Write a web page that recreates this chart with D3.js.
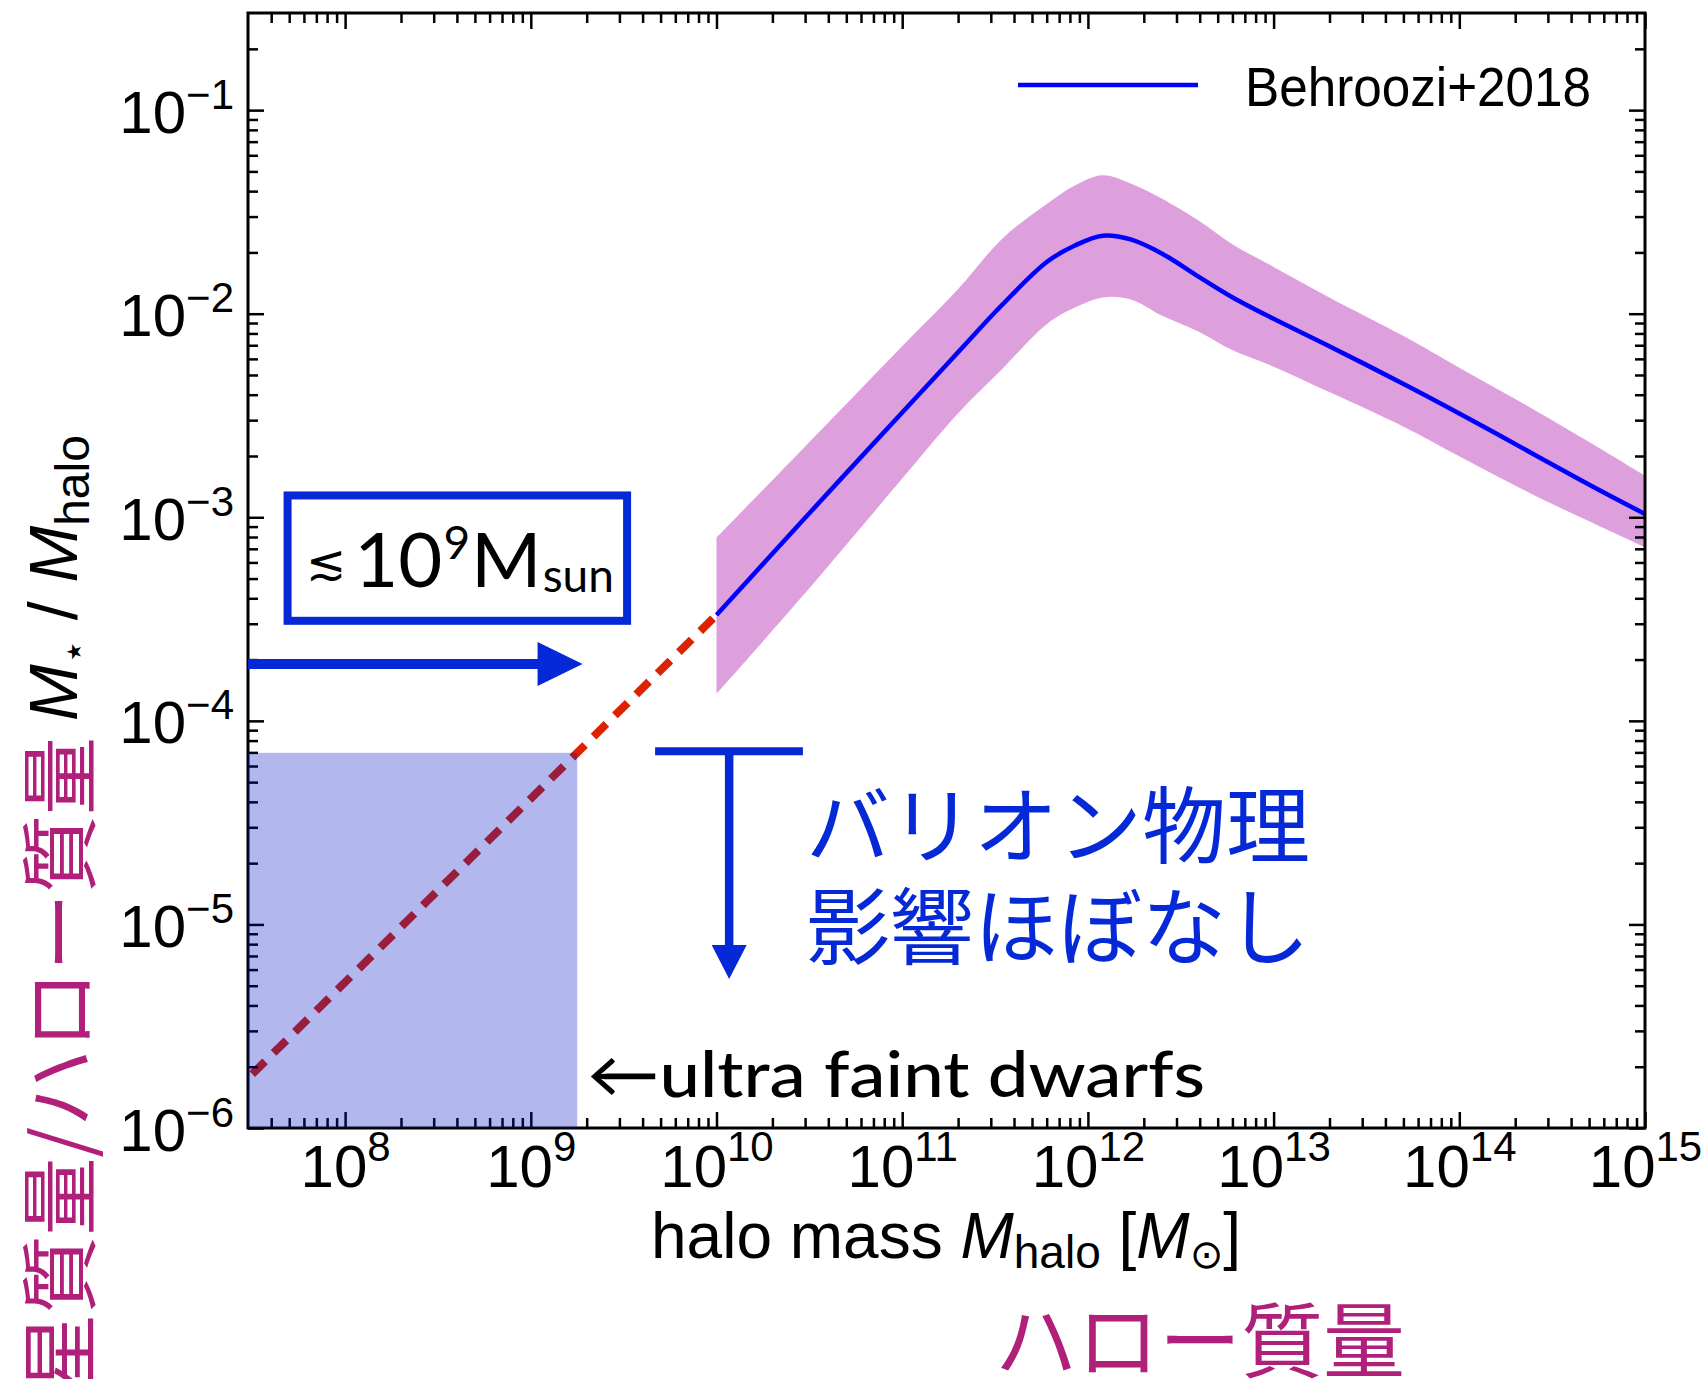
<!DOCTYPE html>
<html>
<head>
<meta charset="utf-8">
<script src="https://d3js.org/d3.v7.min.js"></script>
<style>
body { margin: 0; background: #fff; }
svg text { font-family: "Liberation Sans Narrow", "Liberation Sans", sans-serif; }
.axis path { display: none; }
.axis line { stroke: #000; stroke-width: 2.5; }
.jp { font-family: "Noto Sans CJK JP", sans-serif; }
.gill { font-family: Lato, "Open Sans", sans-serif; }
</style>
</head>
<body>
<svg id="chart"></svg>
<script>
// Behroozi+2018 stellar-to-halo mass ratio (log10 values)
var logMass    = [10.0, 10.48, 11.0, 11.3, 11.54, 11.78, 11.93, 12.08, 12.23, 12.4, 12.6, 12.78, 13.0, 13.3, 13.7, 14.0, 14.4, 14.7, 15.0];
var logRatio   = [-3.48, -3.0, -2.485, -2.19, -1.955, -1.745, -1.665, -1.617, -1.635, -1.705, -1.82, -1.92, -2.025, -2.16, -2.345, -2.49, -2.69, -2.84, -2.984];
var logRatioHi = [-3.1, -2.65, -2.16, -1.88, -1.63, -1.46, -1.37, -1.32, -1.36, -1.435, -1.545, -1.66, -1.77, -1.92, -2.11, -2.265, -2.47, -2.63, -2.796];
var logRatioLo = [-3.867, -3.37, -2.81, -2.49, -2.27, -2.05, -1.97, -1.92, -1.93, -2.01, -2.09, -2.18, -2.26, -2.385, -2.555, -2.7, -2.89, -3.02, -3.148];

// power-law extrapolation below 1e10 (dashed)
var dashLogMass  = [7.5, 10.0];
var dashLogRatio = [-5.735, -3.48];

// ultra faint dwarf region
var ufdLogMass  = [7.477, 9.25];
var ufdLogRatio = [-6, -4.157];

// tick labels (exponents)
var xExponents = [8, 9, 10, 11, 12, 13, 14, 15];
var yExponents = [-6, -5, -4, -3, -2, -1];

var margin = {top: 13, right: 61, bottom: 251, left: 248},
    width = 1706 - margin.left - margin.right,
    height = 1379 - margin.top - margin.bottom;

var blue = "#0529d6", magenta = "#b0207a";

var svg = d3.select("#chart")
    .attr("width", 1706)
    .attr("height", 1379);

var g = svg.append("g")
    .attr("transform", "translate(" + margin.left + "," + margin.top + ")");

var xscale = d3.scaleLog().domain([3e7, 1e15]).range([0, width]);
var yscale = d3.scaleLog().domain([1e-6, 0.3]).range([height, 0]);

function p10(v) { return Math.pow(10, v); }

var curve = logMass.map(function(m, i) {
    return {m: p10(m), r: p10(logRatio[i]), hi: p10(logRatioHi[i]), lo: p10(logRatioLo[i])};
});

// scatter band
g.append("path")
    .datum(curve)
    .attr("fill", "plum")
    .attr("d", d3.area()
        .curve(d3.curveCatmullRom)
        .x(function(d) { return xscale(d.m); })
        .y0(function(d) { return yscale(d.lo); })
        .y1(function(d) { return yscale(d.hi); }));

// median relation
g.append("path")
    .datum(curve)
    .attr("fill", "none")
    .attr("stroke", "#0000ff")
    .attr("stroke-width", 4.5)
    .attr("d", d3.line()
        .curve(d3.curveCatmullRom)
        .x(function(d) { return xscale(d.m); })
        .y(function(d) { return yscale(d.r); }));

// dashed extrapolation
var dash = dashLogMass.map(function(m, i) { return {m: p10(m), r: p10(dashLogRatio[i])}; });
g.append("path")
    .datum(dash)
    .attr("fill", "none")
    .attr("stroke", "#dc2200")
    .attr("stroke-width", 8)
    .attr("stroke-dasharray", "18,12")
    .attr("d", d3.line()
        .x(function(d) { return xscale(d.m); })
        .y(function(d) { return yscale(d.r); }));

// minor tick positions
function minors(lo, hi) {
    var out = [];
    for (var e = -7; e <= 15; e++) {
        for (var k = 2; k <= 9; k++) {
            var v = k * Math.pow(10, e);
            if (v > lo * 1.001 && v < hi * 0.999) out.push(v);
        }
    }
    return out;
}
var xMajor = xExponents.map(p10), yMajor = yExponents.map(p10);
var xMinor = minors(3e7, 1e15), yMinor = minors(1e-6, 0.3);

// axes on all four sides, ticks pointing inward
g.append("g").attr("class", "axis").attr("transform", "translate(0," + height + ")")
    .call(d3.axisBottom(xscale).tickValues(xMinor).tickSize(-10).tickFormat(""));
var xax = g.append("g").attr("class", "axis").attr("transform", "translate(0," + height + ")")
    .call(d3.axisBottom(xscale).tickValues(xMajor).tickSize(-16).tickFormat(""));
g.append("g").attr("class", "axis")
    .call(d3.axisTop(xscale).tickValues(xMinor).tickSize(-10).tickFormat(""));
g.append("g").attr("class", "axis")
    .call(d3.axisTop(xscale).tickValues(xMajor).tickSize(-16).tickFormat(""));
g.append("g").attr("class", "axis")
    .call(d3.axisLeft(yscale).tickValues(yMinor).tickSize(-10).tickFormat(""));
var yax = g.append("g").attr("class", "axis")
    .call(d3.axisLeft(yscale).tickValues(yMajor).tickSize(-16).tickFormat(""));
g.append("g").attr("class", "axis").attr("transform", "translate(" + width + ",0)")
    .call(d3.axisRight(yscale).tickValues(yMinor).tickSize(-10).tickFormat(""));
g.append("g").attr("class", "axis").attr("transform", "translate(" + width + ",0)")
    .call(d3.axisRight(yscale).tickValues(yMajor).tickSize(-16).tickFormat(""));

// tick labels as 10^n
xax.selectAll(".tick").each(function(d, i) {
    var t = d3.select(this).append("text")
        .attr("y", 59).attr("fill", "#000")
        .attr("text-anchor", "middle").style("font-size", "60px");
    t.append("tspan").text("10");
    t.append("tspan").attr("dy", -26).style("font-size", "42px").text(xExponents[i]);
});
yax.selectAll(".tick").each(function(d, i) {
    var t = d3.select(this).append("text")
        .attr("x", -14).attr("y", 22).attr("fill", "#000")
        .attr("text-anchor", "end").style("font-size", "60px");
    t.append("tspan").text("10");
    t.append("tspan").attr("dy", -24).style("font-size", "42px")
        .text("\u2212" + Math.abs(yExponents[i]));
});

// frame
g.append("rect")
    .attr("width", width).attr("height", height)
    .attr("fill", "none").attr("stroke", "#000").attr("stroke-width", 3);

// ultra faint dwarf shading (drawn over the dashed line)
g.append("rect")
    .attr("x", xscale(p10(ufdLogMass[0])))
    .attr("y", yscale(p10(ufdLogRatio[1])))
    .attr("width", xscale(p10(ufdLogMass[1])) - xscale(p10(ufdLogMass[0])))
    .attr("height", yscale(p10(ufdLogRatio[0])) - yscale(p10(ufdLogRatio[1])))
    .attr("fill", "#0014c8").attr("fill-opacity", 0.3);

// legend
g.append("line")
    .attr("x1", 770).attr("x2", 950).attr("y1", 72).attr("y2", 72)
    .attr("stroke", "#0000ff").attr("stroke-width", 4.5);
g.append("text")
    .attr("x", 997).attr("y", 93)
    .attr("textLength", 346).attr("lengthAdjust", "spacingAndGlyphs")
    .style("font-size", "56px").text("Behroozi+2018");

// annotation: box with mass limit and arrow
g.append("rect")
    .attr("x", xscale(4.9e7)).attr("y", yscale(1.28e-3))
    .attr("width", xscale(3.3e9) - xscale(4.9e7))
    .attr("height", yscale(3.1e-4) - yscale(1.28e-3))
    .attr("fill", "none").attr("stroke", blue).attr("stroke-width", 8);
var bt = svg.append("text").attr("class", "gill")
    .attr("x", 306).attr("y", 587).attr("fill", "#000")
    .style("font-size", "76px");
bt.append("tspan").attr("dy", -8).style("font-family", "DejaVu Sans").style("font-size", "48px").text("\u2272");
bt.append("tspan").attr("dx", 8).attr("dy", 8).text("10");
bt.append("tspan").attr("dx", 1).attr("dy", -28).style("font-size", "46px").text("9");
bt.append("tspan").attr("dx", 1).attr("dy", 28).text("M");
bt.append("tspan").attr("dx", 1).attr("dy", 5).style("font-size", "46px").text("sun");

var arrowY = yscale(1.9e-4), arrowTip = xscale(1.9e9);
g.append("line")
    .attr("x1", 0).attr("x2", arrowTip - 40).attr("y1", arrowY).attr("y2", arrowY)
    .attr("stroke", blue).attr("stroke-width", 10);
g.append("path")
    .attr("d", "M" + (arrowTip - 45) + "," + (arrowY - 22) + "L" + arrowTip + "," + arrowY +
               "L" + (arrowTip - 45) + "," + (arrowY + 22) + "Z")
    .attr("fill", blue);

// annotation: T-bar arrow
var tx = xscale(1.17e10), ty = yscale(7.1e-5), tTip = yscale(5.4e-6);
g.append("line")
    .attr("x1", xscale(4.67e9)).attr("x2", xscale(2.92e10)).attr("y1", ty).attr("y2", ty)
    .attr("stroke", blue).attr("stroke-width", 8);
g.append("line")
    .attr("x1", tx).attr("x2", tx).attr("y1", ty).attr("y2", tTip - 30)
    .attr("stroke", blue).attr("stroke-width", 8.5);
g.append("path")
    .attr("d", "M" + (tx - 17.5) + "," + (tTip - 34) + "L" + tx + "," + tTip +
               "L" + (tx + 17.5) + "," + (tTip - 34) + "Z")
    .attr("fill", blue);

g.append("text").attr("class", "jp")
    .attr("x", 558).attr("y", 844).attr("fill", blue)
    .style("font-size", "84px").text("バリオン物理");
g.append("text").attr("class", "jp")
    .attr("x", 558).attr("y", 945).attr("fill", blue)
    .style("font-size", "84px").text("影響ほぼなし");

g.append("text").attr("class", "gill")
    .attr("x", 339).attr("y", 1084).attr("fill", "#000")
    .attr("textLength", 618).attr("lengthAdjust", "spacingAndGlyphs")
    .style("font-size", "64px").style("font-weight", 500)
    .text("\u2190ultra faint dwarfs");

// x axis label
var xl = svg.append("text")
    .attr("x", 651).attr("y", 1258).attr("fill", "#000")
    .style("font-size", "64px");
xl.append("tspan").text("halo mass ");
xl.append("tspan").style("font-style", "italic").text("M");
xl.append("tspan").attr("dy", 10).style("font-size", "46px").text("halo");
xl.append("tspan").attr("dy", -10).text(" [");
xl.append("tspan").style("font-style", "italic").text("M");
xl.append("tspan").attr("dy", 10).style("font-size", "40px").style("font-family", "DejaVu Sans").text("\u2299");
xl.append("tspan").attr("dy", -10).text("]");

svg.append("text").attr("class", "jp")
    .attr("x", 995).attr("y", 1371).attr("fill", magenta)
    .style("font-size", "82px").text("ハロー質量");

// y axis labels (rotated)
var yl = svg.append("text")
    .attr("transform", "translate(77,578) rotate(-90)")
    .attr("text-anchor", "middle").attr("fill", "#000")
    .style("font-size", "68px");
yl.append("tspan").style("font-style", "italic").text("M");
yl.append("tspan").attr("dy", 10).style("font-size", "40px").style("font-family", "DejaVu Sans").text("\u22c6");
yl.append("tspan").attr("dy", -10).text(" / ");
yl.append("tspan").style("font-style", "italic").text("M");
yl.append("tspan").attr("dy", 12).style("font-size", "48px").text("halo");

svg.append("text").attr("class", "jp")
    .attr("transform", "translate(89,737) rotate(-90)")
    .attr("text-anchor", "end").attr("fill", magenta)
    .style("font-size", "78px").text("星質量/ハロー質量");
</script>
</body>
</html>
